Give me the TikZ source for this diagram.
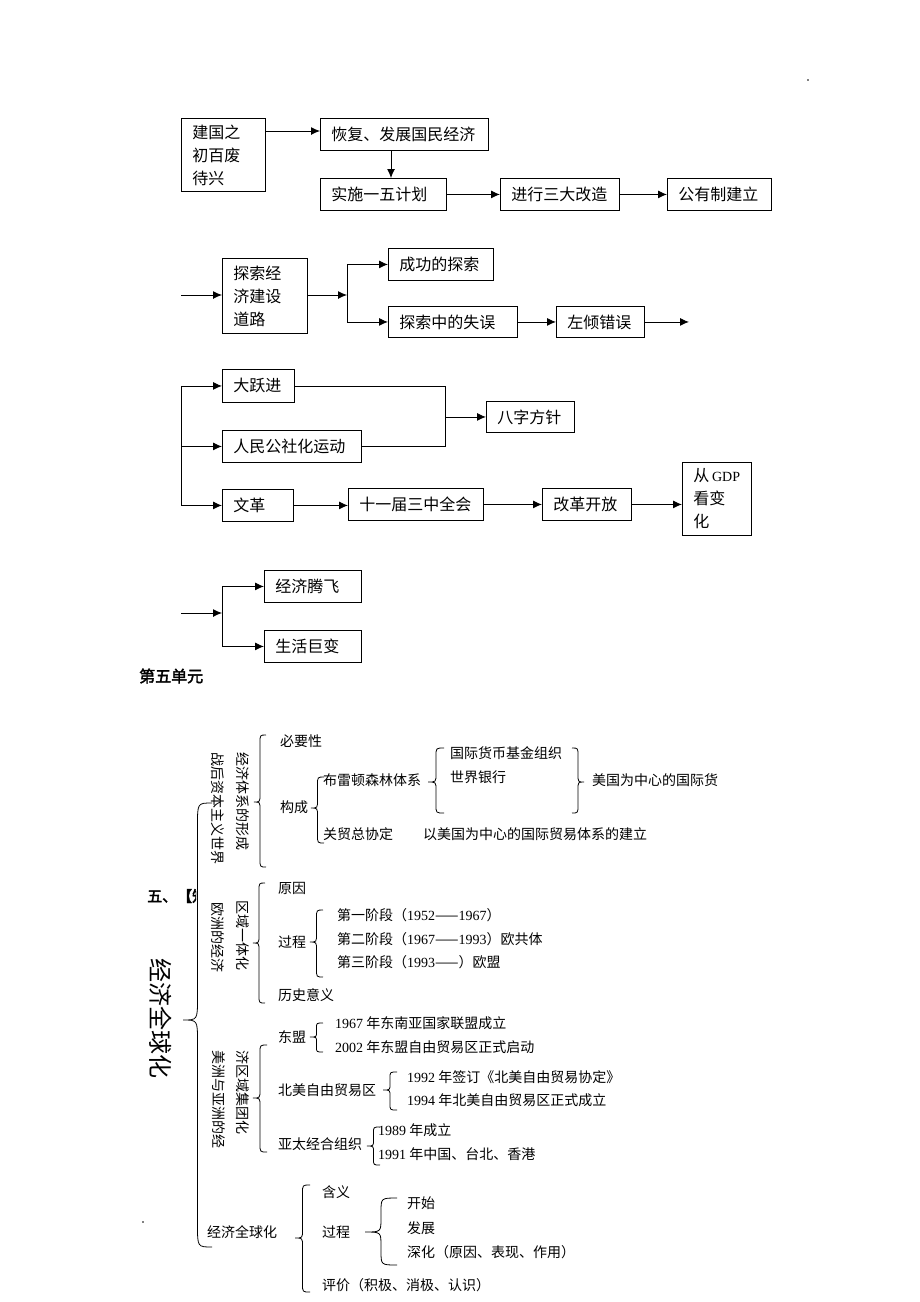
\documentclass[tikz,border=0pt]{standalone}
\usepackage{fontspec}
\setmainfont{Noto Sans CJK SC}
\newfontfamily\tm{Liberation Serif}
\newfontfamily\cjkb[FakeBold=2.5]{Noto Sans CJK SC}
\usetikzlibrary{arrows.meta}
\newcommand\bxn[7]{\node[bx, minimum width=#4pt, minimum height=#5pt, text width=#6pt] (#1) at (#2,#3) {#7};}
\newcommand\mybr[6]{\draw[brc] (#1,#3) .. controls ({(#1+#2)/2},#3) .. ({(#1+#2)/2},{#3+#6}) -- ({(#1+#2)/2},{#5-#6}) .. controls ({(#1+#2)/2},#5) .. (#2,#5) .. controls ({(#1+#2)/2},#5) .. ({(#1+#2)/2},{#5+#6}) -- ({(#1+#2)/2},{#4-#6}) .. controls ({(#1+#2)/2},#4) .. (#1,#4);}
\tikzset{
  bx/.style={draw, line width=0.9pt, inner ysep=0pt, inner xsep=11pt, align=left, anchor=north west, font=\fontsize{16}{23}\selectfont},
  arr/.style={-{Latex[length=9pt,width=8pt]}, line width=0.9pt},
  ln/.style={line width=0.9pt},
  brc/.style={line width=0.8pt},
  st/.style={anchor=west, inner sep=0pt, font=\fontsize{14}{16}\selectfont},
  vt/.style={rotate=-90, anchor=west, inner sep=0pt, font=\fontsize{14}{16}\selectfont},
}
\begin{document}
\begin{tikzpicture}[x=1pt,y=-1pt]
\useasboundingbox (0,0) rectangle (920,1302);
\fill[white] (0,0) rectangle (920,1302);
\fill (808,80) circle (0.9);
\fill (143,1222) circle (0.9);
% ---------- section 1
\bxn{b1}{181}{118}{84}{73}{62}{建国之\\初百废\\待兴}
\bxn{b2}{320}{118}{168}{32}{146}{恢复、发展国民经济}
\bxn{b3}{320}{178}{126}{32}{104}{实施一五计划}
\bxn{b4}{500}{178}{119}{32}{97}{进行三大改造}
\bxn{b5}{667}{178}{104}{32}{82}{公有制建立}
\coordinate (m1) at (391,164);
\coordinate (a1) at (300,131);
\draw[arr] (b1.east |- a1) -- (b2.west |- a1);
\draw[arr] (b2.south -| m1) -- (b3.north -| m1);
\draw[arr] (b3.east) -- (b4.west);
\draw[arr] (b4.east) -- (b5.west);
% ---------- section 2
\bxn{b6}{222}{258}{85}{75}{63}{探索经\\济建设\\道路}
\bxn{b7}{388}{248}{105}{32}{83}{成功的探索}
\bxn{b8}{388}{306}{129}{31}{107}{探索中的失误}
\bxn{b9}{556}{306}{88}{31}{66}{左倾错误}
\coordinate (c0) at (181,295);
\coordinate (s1) at (347,295);
\coordinate (e1) at (689,322);
\draw[arr] (c0) -- (c0 -| b6.west);
\draw[arr] (b6.east |- s1) -- (s1);
\draw[ln] (s1 |- b7.west) -- (s1 |- b8.west);
\draw[arr] (s1 |- b7.west) -- (b7.west);
\draw[arr] (s1 |- b8.west) -- (b8.west);
\draw[arr] (b8.east) -- (b9.west);
\draw[arr] (b9.east) -- (e1 |- b9.east);
% ---------- section 3
\bxn{b10}{222}{369}{72}{33}{50}{大跃进}
\bxn{b11}{222}{430}{139}{32}{117}{人民公社化运动}
\bxn{b12}{222}{489}{71}{32}{49}{文革}
\bxn{b13}{486}{401}{88}{31}{66}{八字方针}
\bxn{b14}{348}{488}{135}{32}{113}{十一届三中全会}
\bxn{b15}{542}{488}{89}{32}{67}{改革开放}
\bxn{b16}{682}{462}{69}{73}{47}{\mbox{从\,{\tm\fontsize{14}{14}\selectfont GDP}}\\看变\\化}
\coordinate (s2) at (181,440);
\coordinate (j) at (445,416);
\draw[ln] (s2 |- b10.west) -- (s2 |- b12.west);
\draw[arr] (s2 |- b10.west) -- (b10.west);
\draw[arr] (s2 |- b11.west) -- (b11.west);
\draw[arr] (s2 |- b12.west) -- (b12.west);
\draw[ln] (b10.east) -- (b10.east -| j) -- (b11.east -| j) -- (b11.east);
\draw[arr] (j |- b13.west) -- (b13.west);
\draw[arr] (b12.east) -- (b12.east -| b14.west);
\draw[arr] (b14.east) -- (b15.west);
\draw[arr] (b15.east) -- (b15.east -| b16.west);
% ---------- section 4
\bxn{b17}{264}{570}{97}{32}{75}{经济腾飞}
\bxn{b18}{264}{630}{97}{32}{75}{生活巨变}
\coordinate (c1) at (181,613);
\coordinate (s3) at (222,613);
\draw[arr] (c1) -- (s3);
\draw[ln] (s3 |- b17.west) -- (s3 |- b18.west);
\draw[arr] (s3 |- b17.west) -- (b17.west);
\draw[arr] (s3 |- b18.west) -- (b18.west);
\node[anchor=west, inner sep=0pt, font=\fontsize{16}{18}\selectfont\cjkb] (unit5) at (139,676) {第五单元};
% ---------- section 5
\begin{scope}
\clip (140,880) rectangle (196,912);
\node[anchor=west, inner sep=0pt, font=\fontsize{15}{17}\selectfont\cjkb] (t5) at (147,896) {五、【知识】};
\end{scope}
\node[vt, font=\fontsize{24}{26}\selectfont] (big) at (161,958) {经济全球化};
\node[vt] (v1) at (218,752) {战后资本主义世界};
\node[vt] (v2) at (243,752) {经济体系的形成};
\node[vt] (v3) at (218,902) {欧洲的经济};
\node[vt] (v4) at (243,900) {区域一体化};
\node[vt] (v5) at (219,1050) {美洲与亚洲的经};
\node[vt] (v6) at (243,1050) {济区域集团化};
% braces
\mybr{212}{183}{803}{1247}{1020}{22}
\mybr{266}{254}{735}{867}{802}{8}
\mybr{324}{311}{777}{843}{808}{8}
\mybr{444}{428}{748}{813}{782}{8}
\mybr{572}{584}{748}{813}{782}{8}
\mybr{265}{253}{883}{1003}{943}{8}
\mybr{323}{310}{910}{977}{942}{8}
\mybr{323}{310}{1023}{1052}{1037}{5}
\mybr{267}{253}{1045}{1152}{1098}{8}
\mybr{397}{383}{1072}{1110}{1090}{6}
\mybr{380}{367}{1127}{1165}{1146}{6}
\mybr{310}{295}{1185}{1292}{1238}{8}
\mybr{397}{365}{1198}{1265}{1232}{14}
% texts
\node[st] (n1) at (280,741) {必要性};
\node[st] (n2) at (450,753) {国际货币基金组织};
\node[st] (n3) at (323,780) {布雷顿森林体系};
\node[st] (n4) at (450,777) {世界银行};
\node[st] (n5) at (592,780) {美国为中心的国际货};
\node[st] (n6) at (280,807) {构成};
\node[st] (n7) at (323,834) {关贸总协定};
\node[st] (n8) at (423,834) {以美国为中心的国际贸易体系的建立};
\node[st] (n9) at (278,888) {原因};
\node[st] (n10) at (278,942) {过程};
\node[st] (n11) at (337,915) {第一阶段（{\tm 1952}——{\tm 1967}）};
\node[st] (n12) at (337,939) {第二阶段（{\tm 1967}——{\tm 1993}）欧共体};
\node[st] (n13) at (337,962) {第三阶段（{\tm 1993}——）欧盟};
\node[st] (n14) at (278,995) {历史意义};
\node[st] (n15) at (278,1037) {东盟};
\node[st] (n16) at (335,1023) {{\tm 1967} 年东南亚国家联盟成立};
\node[st] (n17) at (335,1047) {{\tm 2002} 年东盟自由贸易区正式启动};
\node[st] (n18) at (278,1090) {北美自由贸易区};
\node[st] (n19) at (407,1077) {{\tm 1992} 年签订《北美自由贸易协定》};
\node[st] (n20) at (407,1100) {{\tm 1994} 年北美自由贸易区正式成立};
\node[st] (n21) at (278,1144) {亚太经合组织};
\node[st] (n22) at (378,1130) {{\tm 1989} 年成立};
\node[st] (n23) at (378,1154) {{\tm 1991} 年中国、台北、香港};
\node[st] (n24) at (207,1232) {经济全球化};
\node[st] (n25) at (322,1192) {含义};
\node[st] (n26) at (322,1232) {过程};
\node[st] (n27) at (407,1203) {开始};
\node[st] (n28) at (407,1228) {发展};
\node[st] (n29) at (407,1252) {深化（原因、表现、作用）};
\node[st] (n30) at (322,1285) {评价（积极、消极、认识）};
\end{tikzpicture}
\end{document}
